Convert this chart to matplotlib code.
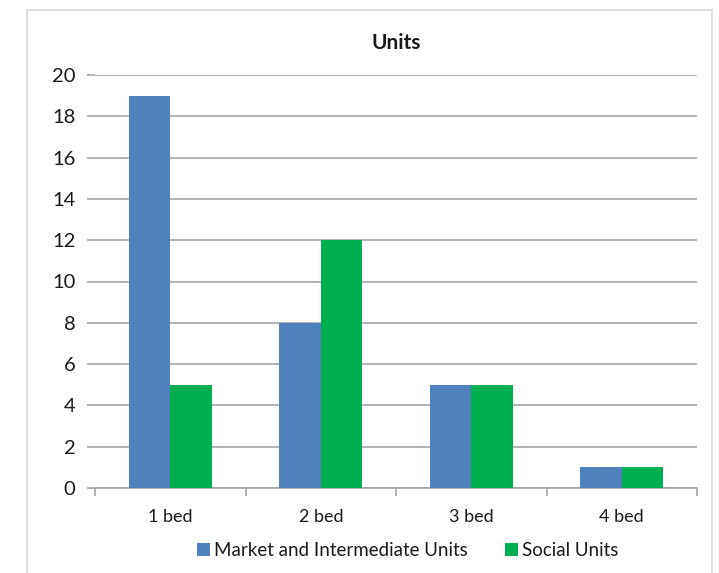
import matplotlib
matplotlib.use("Agg")
import matplotlib.pyplot as plt
import numpy as np
from matplotlib.patches import Rectangle

plt.rcParams['font.family'] = ['Lato', 'DejaVu Sans']

categories = ["1 bed", "2 bed", "3 bed", "4 bed"]
market = [19, 8, 5, 1]
social = [5, 12, 5, 1]
series_names = ["Market and Intermediate Units", "Social Units"]

blue = "#4F81BD"
green = "#00B050"
grid_col = "#A6A6A6"
text_col = "#1A1A1A"

fig = plt.figure(figsize=(7.19, 5.73), dpi=100)
fig.patch.set_facecolor("white")

# chart area border
fig.patches.append(Rectangle((27 / 719, -0.05), 685 / 719, 1.05 - 10 / 573,
                             transform=fig.transFigure, fill=False,
                             edgecolor="#D9D9D9", linewidth=1.2))

ax = fig.add_axes([95 / 719, 1 - 488 / 573, (697 - 95) / 719, (488 - 75) / 573])

x = np.arange(1, len(categories) + 1)
w = 0.275
ax.bar(x - w / 2, market, w, color=blue, label=series_names[0], zorder=3)
ax.bar(x + w / 2, social, w, color=green, label=series_names[1], zorder=3)

ax.set_xlim(0.5, 4.5)
ax.set_ylim(0, 20)
ax.set_yticks(np.arange(0, 21, 2))
ax.yaxis.grid(True, color=grid_col, linewidth=1.2, zorder=0)
ax.set_axisbelow(True)

for s in ["top", "right", "left"]:
    ax.spines[s].set_visible(False)
ax.spines["bottom"].set_color(grid_col)
ax.spines["bottom"].set_linewidth(1.2)

ax.set_xticks(np.arange(0.5, 4.6, 1))
ax.set_xticklabels([])
ax.set_xticks(x, minor=True)
ax.set_xticklabels(categories, minor=True, fontsize=13, color=text_col)
ax.tick_params(axis="x", which="major", length=6, color=grid_col, width=1.2)
ax.tick_params(axis="x", which="minor", length=0, pad=15)
ax.tick_params(axis="y", length=6, color=grid_col, width=1.2, labelsize=14.5,
               labelcolor=text_col, pad=8)

ax.set_title("Units", fontsize=15, fontweight="bold", pad=19, color=text_col)

leg = ax.legend(loc="upper center", bbox_to_anchor=(0.52, -0.09), ncol=2,
                frameon=False, fontsize=13.5, handlelength=0.65, handleheight=0.65,
                handletextpad=0.25, columnspacing=2.0)
for t in leg.get_texts():
    t.set_color(text_col)

fig.savefig("out.png", dpi=100)
